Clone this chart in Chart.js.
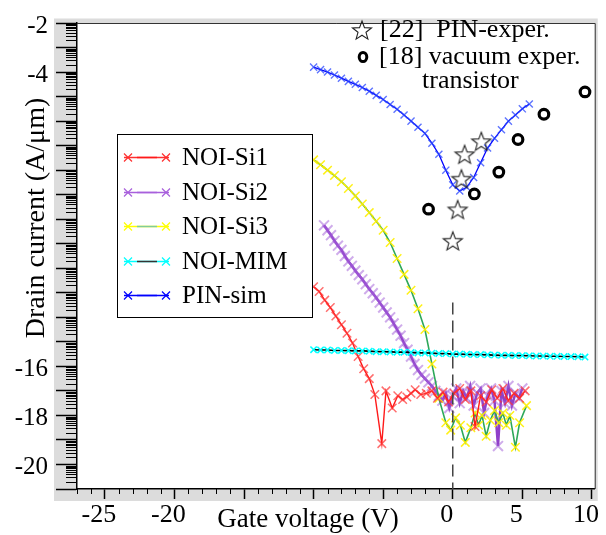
<!DOCTYPE html>
<html>
<head>
<meta charset="utf-8">
<script src="https://cdn.jsdelivr.net/npm/chart.js@4.4.0/dist/chart.umd.min.js"></script>
<style>
  html, body { margin: 0; padding: 0; background: #fff; }
  #wrap { width: 606px; height: 535px; }
</style>
</head>
<body>
<div id="wrap"><canvas id="currentChart"></canvas></div>
<script>
// gate voltage (V) and log10 drain current (A/um) for each device
const si1Volt = [-10, -9.6, -9.2, -8.8, -8.4, -8.0, -7.6, -7.2, -6.8, -6.4, -6.0, -5.6, -5.1, -4.8, -4.35, -3.95, -3.6, -3.3, -3.0, -2.7, -2.3, -1.9, -1.5, -1.1, -0.7, -0.3, 0.1, 0.5, 0.9, 1.3, 1.6, 2.0, 2.4, 2.8, 3.2, 3.6, 4.0, 4.4, 4.8, 5.2];
const si1Curr = [-12.75, -12.95, -13.3, -13.6, -13.95, -14.3, -14.65, -15.05, -15.6, -16.1, -16.5, -17.15, -19.15, -17.0, -17.7, -17.2, -17.35, -17.25, -17.1, -16.95, -17.15, -17.1, -17.0, -17.3, -17.05, -17.45, -17.1, -16.9, -17.35, -17.0, -18.45, -17.2, -17.45, -16.95, -17.3, -16.9, -17.4, -17.1, -17.3, -17.0];

const si2Volt = [-9.25, -9.0, -8.75, -8.5, -8.25, -8.0, -7.75, -7.5, -7.25, -7.0, -6.75, -6.5, -6.25, -6.0, -5.75, -5.5, -5.25, -5.0, -4.75, -4.5, -4.25, -4.0, -3.75, -3.5, -3.25, -3.0, -2.75, -2.5, -2.25, -2.0, -1.75, -1.5, -1.25, -1.0,
  -0.75, -0.5, -0.25, 0, 0.25, 0.5, 0.75, 1.0, 1.25, 1.5, 1.75, 2.0, 2.25, 2.5, 2.75, 3.0, 3.25, 3.5, 3.75, 4.0, 4.25, 4.5, 4.75, 5.0];
const si2Curr = [-10.25, -10.45, -10.65, -10.88, -11.08, -11.25, -11.5, -11.72, -11.9, -12.1, -12.28, -12.45, -12.65, -12.85, -13.02, -13.2, -13.4, -13.6, -13.8, -14.0, -14.25, -14.5, -14.75, -15.05, -15.32, -15.6, -15.9, -16.15, -16.35, -16.5, -16.65, -16.8, -17.0, -17.2,
  -17.4, -17.1, -17.7, -17.2, -16.9, -17.5, -17.0, -17.3, -16.8, -17.6, -17.1, -16.9, -17.9, -17.2, -16.9, -17.4, -19.25, -17.0, -17.5, -16.8, -17.6, -17.1, -17.3, -16.9];

const si3Volt = [-10, -9.5, -9, -8.5, -8, -7.5, -7, -6.5, -6, -5.5, -5, -4.5, -4, -3.5, -3, -2.5, -2, -1.5, -1, -0.5,
  -0.15, 0.2, 0.55, 0.9, 1.3, 1.6, 1.85, 2.1, 2.4, 2.7, 3.0, 3.3, 3.6, 3.85, 4.1, 4.5, 4.8, 5.3];
const si3Curr = [-7.58, -7.78, -8.0, -8.22, -8.47, -8.75, -9.05, -9.38, -9.73, -10.08, -10.45, -10.95, -11.6, -12.25, -12.9, -13.65, -14.5, -15.9, -17.3, -18.3,
  -18.6, -18.1, -18.4, -19.1, -18.5, -17.9, -18.4, -18.0, -18.85, -18.2, -17.8, -18.3, -17.9, -18.4, -18.0, -19.3, -18.3, -17.6];

const mimVolt = [-10, -9.5, -9, -8.5, -8, -7.5, -7, -6.5, -6, -5.5, -5, -4.5, -4, -3.5, -3, -2.5, -2, -1.5, -1, -0.5, 0, 0.5, 1, 1.5, 2, 2.5, 3, 3.5, 4, 4.5, 5, 5.5, 6, 6.5, 7, 7.5, 8, 8.5, 9, 9.5];
const mimCurr = [-15.32, -15.33, -15.33, -15.35, -15.35, -15.36, -15.37, -15.37, -15.38, -15.4, -15.4, -15.41, -15.42, -15.42, -15.43, -15.45, -15.45, -15.46, -15.48, -15.48, -15.5, -15.5, -15.51, -15.52, -15.52, -15.53, -15.54, -15.55, -15.55, -15.56, -15.56, -15.57, -15.58, -15.58, -15.59, -15.59, -15.6, -15.6, -15.61, -15.62];

const pinVolt = [-10, -9.5, -9, -8.5, -8, -7.5, -7, -6.5, -6, -5.5, -5, -4.5, -4, -3.5, -3, -2.5, -2, -1.5, -1, -0.5, 0, 0.5, 1, 1.5, 2, 2.5, 3, 3.5, 4, 4.5, 5, 5.5];
const pinCurr = [-3.8, -3.9, -4.0, -4.12, -4.25, -4.38, -4.5, -4.63, -4.78, -4.95, -5.12, -5.32, -5.52, -5.75, -6.0, -6.25, -6.5, -6.9, -7.35, -8.0, -8.6, -8.85, -8.7, -8.3, -7.7, -7.1, -6.7, -6.35, -6.0, -5.75, -5.5, -5.3];

// measured points: [22] PIN experiment, [18] vacuum transistor
const pinExpVolt = [0.85, 2.05, 0.62, 0.35, 0];
const pinExpCurr = [-7.35, -6.82, -8.35, -9.6, -10.88];
const vacExpVolt = [-1.74, 1.55, 3.31, 4.69, 6.55, 9.5];
const vacExpCurr = [-9.59, -8.97, -8.08, -6.75, -5.72, -4.81];

// vertical reference at Vg = 0
const zeroVolt = [0, 0];
const zeroCurr = [-13.4, -21];

const xTicks = [-25, -20, -15, -10, -5, 0, 5, 10];
const xLabelled = [-25, -20, 0, 5, 10];
const yLabelled = [-2, -4, -16, -18, -20];

const serif = '"Liberation Serif", "Times New Roman", serif';
Chart.defaults.font.family = serif;

function pairs(xs, ys) { return xs.map((x, i) => ({ x: x, y: ys[i] })); }

function starImage(r) {
  const s = Math.ceil(r * 2 + 4);
  const c = document.createElement('canvas');
  c.width = s; c.height = s;
  const g = c.getContext('2d');
  g.strokeStyle = '#222';
  g.lineWidth = 1.1;
  g.beginPath();
  for (let i = 0; i < 10; i++) {
    const a = -Math.PI / 2 + i * Math.PI / 5;
    const rr = i % 2 ? r * 0.42 : r;
    g.lineTo(s / 2 + rr * Math.cos(a), s / 2 + 1 + rr * Math.sin(a));
  }
  g.closePath();
  g.stroke();
  return c;
}
const star = starImage(10);

function cross(ctx, x, y, r) {
  ctx.beginPath();
  ctx.moveTo(x - r, y - r); ctx.lineTo(x + r, y + r);
  ctx.moveTo(x - r, y + r); ctx.lineTo(x + r, y - r);
  ctx.stroke();
}

// series shown in the boxed legend
const legendItems = [
  { label: 'NOI-Si1', line: '#ff1a1a', mark: '#ff3030' },
  { label: 'NOI-Si2', line: '#a860dc', mark: '#a860dc' },
  { label: 'NOI-Si3', line: '#80cc99', mark: '#ffff00' },
  { label: 'NOI-MIM', line: '#333333', mark: '#00ffff' },
  { label: 'PIN-sim', line: '#0000ff', mark: '#0000ff' }
];

const paperFrame = {
  id: 'paperFrame',
  beforeDraw(chart) {
    const { ctx, chartArea: a } = chart;
    ctx.save();
    ctx.fillStyle = '#dcdcdc';
    ctx.fillRect(a.left - 23, a.top - 4.5, a.right - a.left + 26, a.bottom - a.top + 16.5);
    ctx.fillStyle = '#fff';
    ctx.fillRect(a.left, a.top, a.right - a.left, a.bottom - a.top);
    ctx.restore();
  },
  afterDraw(chart) {
    const { ctx, chartArea: a } = chart;
    const xs = chart.scales.x, ys = chart.scales.y;
    ctx.save();

    // log-decade minor ticks on the current axis
    ctx.strokeStyle = '#000';
    ctx.lineWidth = 1;
    ctx.beginPath();
    for (let n = -21; n < -2; n++) {
      for (let k = 2; k <= 9; k++) {
        const py = Math.round(ys.getPixelForValue(n + Math.log10(k))) + 0.5;
        ctx.moveTo(a.left - 11, py); ctx.lineTo(a.left, py);
      }
    }
    // 1 V minor ticks on the voltage axis
    for (let v = -27; v <= 10; v++) {
      if (v % 5 === 0) continue;
      const px = Math.round(xs.getPixelForValue(v)) + 0.5;
      ctx.moveTo(px, a.bottom); ctx.lineTo(px, a.bottom + 5);
    }
    ctx.stroke();

    // top and right frame
    ctx.strokeStyle = '#333';
    ctx.beginPath();
    ctx.moveTo(a.left, a.top + 0.5); ctx.lineTo(a.right + 0.5, a.top + 0.5);
    ctx.lineTo(a.right + 0.5, a.bottom);
    ctx.stroke();

    // axis titles
    ctx.fillStyle = '#000';
    ctx.font = '27px ' + serif;
    ctx.textAlign = 'center';
    ctx.textBaseline = 'alphabetic';
    ctx.fillText('Gate voltage (V)', xs.getPixelForValue(-10.4), 527);
    ctx.save();
    ctx.translate(37, 218);
    ctx.rotate(-Math.PI / 2);
    ctx.font = '28px ' + serif;
    ctx.textBaseline = 'middle';
    ctx.fillText('Drain current (A/\u03bcm)', 0, 0);
    ctx.restore();

    // notes for the measured points
    ctx.font = '26px ' + serif;
    ctx.textAlign = 'left';
    ctx.textBaseline = 'middle';
    ctx.drawImage(star, 362 - star.width / 2, 30 - star.height / 2);
    ctx.fillText('[22]  PIN-exper.', 380, 30);
    ctx.lineWidth = 3;
    ctx.strokeStyle = '#000';
    ctx.beginPath();
    ctx.ellipse(363, 57, 3.8, 4.6, 0, 0, Math.PI * 2);
    ctx.stroke();
    ctx.fillText('[18] vacuum exper.', 379, 57);
    ctx.fillText('transistor', 422, 81);

    // boxed legend
    const bx = 117, by = 134, bw = 195, bh = 183;
    ctx.fillStyle = '#fff';
    ctx.fillRect(bx, by, bw, bh);
    ctx.strokeStyle = '#000';
    ctx.lineWidth = 1;
    ctx.strokeRect(bx + 0.5, by + 0.5, bw, bh);
    ctx.font = '25px ' + serif;
    legendItems.forEach((it, i) => {
      const y = Math.round(157 + i * 34.5) + 0.5;
      ctx.lineWidth = 1.5;
      ctx.strokeStyle = it.mark;
      ctx.beginPath(); ctx.moveTo(124, y); ctx.lineTo(169, y); ctx.stroke();
      ctx.strokeStyle = it.line;
      ctx.beginPath(); ctx.moveTo(137, y); ctx.lineTo(157, y); ctx.stroke();
      ctx.lineWidth = 1.2;
      ctx.strokeStyle = it.mark;
      cross(ctx, 128, y, 4);
      cross(ctx, 166, y, 4);
      ctx.fillStyle = '#000';
      ctx.fillText(it.label, 182, y + 1);
    });
    ctx.restore();
  }
};

const datasets = [
  {
    label: 'PIN-exper.', data: pairs(pinExpVolt, pinExpCurr), showLine: false,
    pointStyle: star, pointRadius: 10, order: 0
  },
  {
    label: 'vacuum exper.', data: pairs(vacExpVolt, vacExpCurr), showLine: false,
    pointStyle: 'circle', pointRadius: 4.8, pointBorderWidth: 3.2,
    pointBorderColor: '#000', pointBackgroundColor: 'rgba(0,0,0,0)', order: 0
  },
  {
    label: 'PIN-sim', data: pairs(pinVolt, pinCurr), showLine: true,
    borderColor: '#0000ff', borderWidth: 1.3, pointStyle: 'crossRot', pointRadius: 5,
    pointBorderColor: 'rgba(40,70,255,0.75)', pointBorderWidth: 1.4, order: 1
  },
  {
    label: 'NOI-MIM', data: pairs(mimVolt, mimCurr), showLine: true,
    borderColor: '#000', borderWidth: 1.6, pointStyle: 'crossRot', pointRadius: 4.5,
    pointBorderColor: '#00ffff', pointBorderWidth: 1.6, order: 3
  },
  {
    label: 'NOI-Si1', data: pairs(si1Volt, si1Curr), showLine: true,
    borderColor: '#ff1a1a', borderWidth: 1.4, pointStyle: 'crossRot', pointRadius: 6,
    pointBorderColor: 'rgba(255,50,50,0.7)', pointBorderWidth: 1.5, order: 4
  },
  {
    label: 'NOI-Si3', data: pairs(si3Volt, si3Curr), showLine: true,
    borderColor: '#2ea85a', borderWidth: 1.6, pointStyle: 'crossRot', pointRadius: 6,
    pointBorderColor: 'rgba(255,240,0,0.9)', pointBorderWidth: 1.5, order: 5
  },
  {
    label: 'NOI-Si2', data: pairs(si2Volt, si2Curr), showLine: true,
    borderColor: '#9040c8', borderWidth: 2.5, pointStyle: 'crossRot', pointRadius: 7,
    pointBorderColor: 'rgba(160,90,215,0.5)', pointBorderWidth: 2, order: 6
  },
  {
    label: 'Vg = 0', data: pairs(zeroVolt, zeroCurr), showLine: true,
    borderColor: '#444', borderWidth: 1.5, borderDash: [12, 6], pointRadius: 0, order: 2
  }
];

new Chart(document.getElementById('currentChart'), {
  type: 'scatter',
  data: { datasets: datasets },
  plugins: [paperFrame],
  options: {
    responsive: true,
    maintainAspectRatio: false,
    animation: false,
    layout: { padding: { top: 12, right: 9, left: 0, bottom: 0 } },
    plugins: { legend: { display: false }, tooltip: { enabled: false } },
    scales: {
      x: {
        type: 'linear', min: -27, max: 10.2,
        afterBuildTicks: (s) => { s.ticks = xTicks.map(v => ({ value: v })); },
        afterFit: (s) => { s.height = 46; },
        grid: { drawOnChartArea: false, tickLength: 10, tickColor: '#000', tickWidth: 1.5 },
        border: { color: '#000', width: 1.5 },
        ticks: {
          color: '#000', font: { family: serif, size: 26 }, padding: 1, labelOffset: -6,
          maxRotation: 0, autoSkip: false,
          callback: (v) => xLabelled.includes(v) ? String(v) : ''
        }
      },
      y: {
        type: 'linear', min: -21, max: -2,
        ticks: {
          stepSize: 1, color: '#000', font: { family: serif, size: 25 }, padding: 8, labelOffset: 3,
          autoSkip: false,
          callback: (v) => yLabelled.includes(v) ? String(v) : ''
        },
        afterFit: (s) => { s.width = 77; },
        grid: { drawOnChartArea: false, tickLength: 21, tickColor: '#000', tickWidth: 1.5 },
        border: { color: '#000', width: 1.5 }
      }
    }
  }
});
</script>
</body>
</html>
